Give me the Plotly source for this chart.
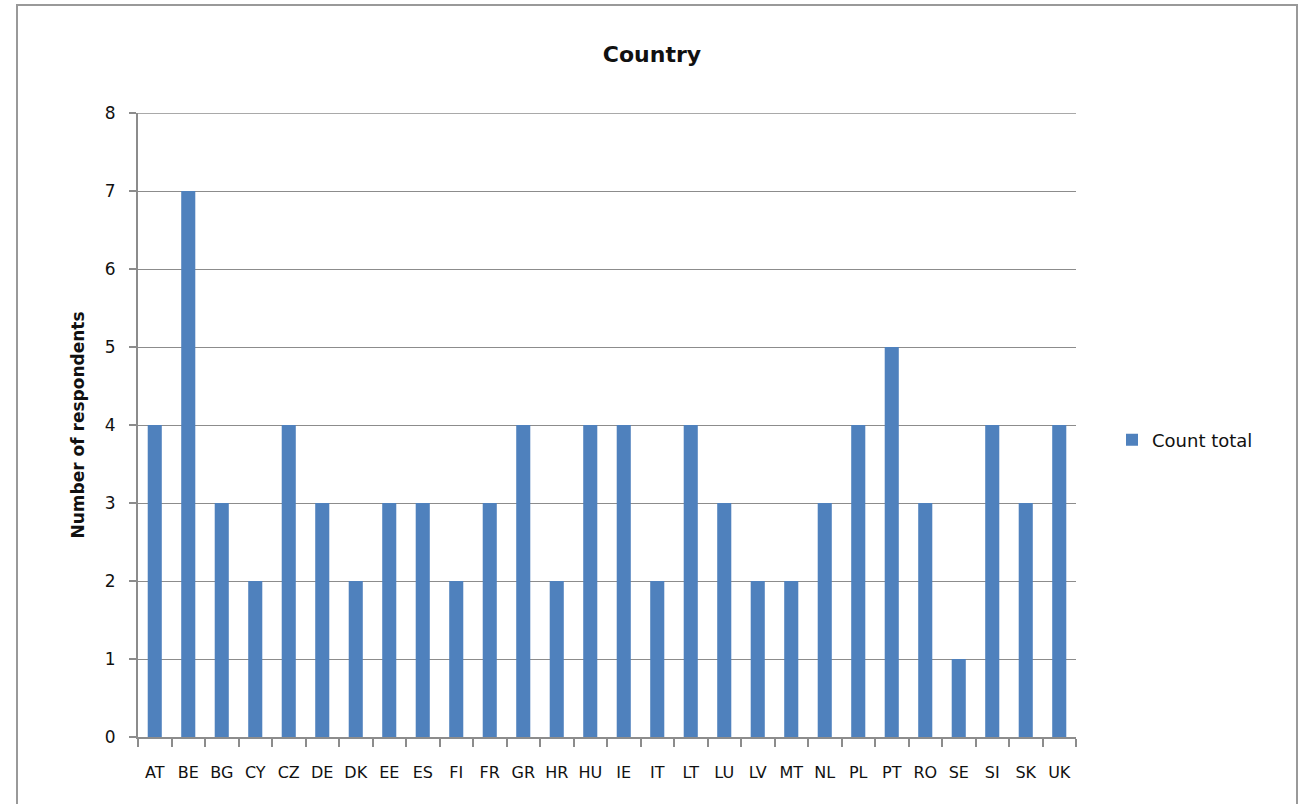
import plotly.graph_objects as go

countries = ["AT", "BE", "BG", "CY", "CZ", "DE", "DK", "EE", "ES", "FI", "FR", "GR", "HR", "HU",
             "IE", "IT", "LT", "LU", "LV", "MT", "NL", "PL", "PT", "RO", "SE", "SI", "SK", "UK"]
counts = [4, 7, 3, 2, 4, 3, 2, 3, 3, 2, 3, 4, 2, 4,
          4, 2, 4, 3, 2, 2, 3, 4, 5, 3, 1, 4, 3, 4]
series_name = "Count total"
y_ticks = [0, 1, 2, 3, 4, 5, 6, 7, 8]

FONT = "'DejaVu Sans', sans-serif"
GRID = "#8c8c8c"
TXT = "#111111"

fig = go.Figure(go.Bar(x=countries, y=counts, name=series_name,
                       marker=dict(color="#4F81BD", line=dict(width=0))))

fig.update_layout(
    width=1304, height=804,
    margin=dict(l=138, r=228, t=113, b=67, autoexpand=False),
    paper_bgcolor="white", plot_bgcolor="white",
    bargap=0.58,
    showlegend=True,
    font=dict(family=FONT, size=16, color=TXT),
    title=dict(text="<b>Country</b>", x=0.5, xanchor="center", y=1 - 54 / 804, yanchor="middle",
               font=dict(size=22, family=FONT, color=TXT)),
    legend=dict(x=(1112 - 138) / 938, xanchor="left", xref="paper", y=0.476, yanchor="middle",
                font=dict(size=18, family=FONT, color=TXT), itemwidth=30, bgcolor="rgba(0,0,0,0)"),
    xaxis=dict(type="category", showgrid=False, showline=True, linecolor=GRID, linewidth=2,
               ticks="outside", tickson="boundaries", ticklen=8, tickcolor=GRID, tickwidth=2,
               tickangle=0,
               tickfont=dict(size=16, family=FONT, color=TXT), ticklabelstandoff=20),
    yaxis=dict(range=[0, 8], tickvals=y_ticks, showgrid=True, gridcolor=GRID, gridwidth=1,
               showline=True, linecolor=GRID, linewidth=2, ticks="outside", ticklen=7,
               tickcolor=GRID, tickwidth=2, zeroline=False,
               tickfont=dict(size=17, family=FONT, color=TXT), ticklabelstandoff=10,
               title=dict(text="<b>Number of respondents</b>", font=dict(size=17, family=FONT, color=TXT),
                          standoff=16)),
)

# top gridline at the maximum of the value axis
fig.add_shape(type="line", xref="paper", yref="y", x0=0, x1=1, y0=max(y_ticks), y1=max(y_ticks),
              line=dict(color=GRID, width=1.5), layer="below")

# chart area border
fig.add_shape(type="rect", xref="paper", yref="paper",
              x0=(17 - 138) / 938, x1=(1297 - 138) / 938,
              y0=-0.3, y1=(737 - 5) / 624,
              line=dict(color="#999999", width=2), fillcolor="rgba(0,0,0,0)", layer="below")

fig.write_html("out.html", config={"displayModeBar": False},
               post_script="document.body.style.margin='0';")
